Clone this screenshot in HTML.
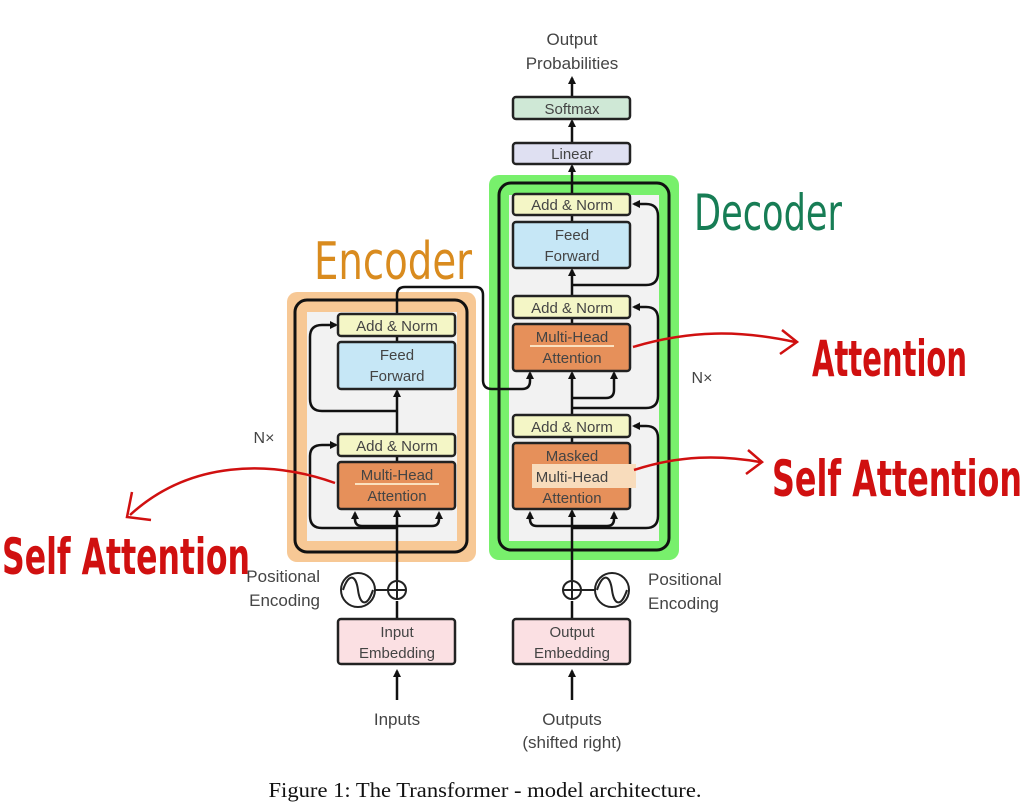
<!DOCTYPE html>
<html><head><meta charset="utf-8"><style>
html,body{margin:0;padding:0;background:#fff;width:1024px;height:811px;overflow:hidden}
svg{display:block}
.t{font-family:"Liberation Sans",sans-serif;fill:#444;font-size:15px;text-anchor:middle}
.b{stroke:#222;stroke-width:2.5}
.l{stroke:#111;stroke-width:2.5;fill:none}
.h{font-family:"DejaVu Sans Condensed","Liberation Sans Narrow","Liberation Sans",sans-serif;font-weight:bold}
</style></head><body>
<svg width="1024" height="811" viewBox="0 0 1024 811">
<defs><marker id="a" markerWidth="8" markerHeight="8" refX="6" refY="4" orient="auto" markerUnits="userSpaceOnUse"><path d="M0,0 L8,4 L0,8 Z" fill="#111"/></marker></defs>

<!-- encoder -->
<rect x="287" y="292" width="189" height="270" rx="10" fill="#f7c895"/>
<rect x="295" y="300" width="172" height="252" rx="12" fill="none" stroke="#111" stroke-width="3"/>
<rect x="307" y="312" width="150" height="229" fill="#f2f2f2"/>
<!-- decoder -->
<rect x="489" y="175" width="190" height="385" rx="10" fill="#78f06c"/>
<rect x="499" y="183" width="170" height="367" rx="12" fill="none" stroke="#111" stroke-width="3"/>
<rect x="509" y="195" width="150" height="346" fill="#f2f2f2"/>

<!-- lines encoder -->
<path class="l" d="M397,700 L397,671" marker-end="url(#a)"/>
<path class="l" d="M397,619 L397,601"/>
<path class="l" d="M397,580 L397,511" marker-end="url(#a)"/>
<path class="l" d="M397,528 L322,528 Q310,528 310,516 L310,456 Q310,445 322,445 L336,445" marker-end="url(#a)"/>
<path class="l" d="M355,520 L355,513" marker-end="url(#a)"/>
<path class="l" d="M355,519 Q355,526 362,526 L432,526 Q439,526 439,519 L439,513" marker-end="url(#a)"/>
<path class="l" d="M397,456 L397,462"/>
<path class="l" d="M397,434 L397,391" marker-end="url(#a)"/>
<path class="l" d="M397,411 L322,411 Q310,411 310,399 L310,337 Q310,325 322,325 L336,325" marker-end="url(#a)"/>
<path class="l" d="M397,336 L397,342"/>
<path class="l" d="M397,314 L397,295 Q397,287 405,287 L475,287 Q483,287 483,295 L483,380 Q483,389 492,389 L522,389 Q530,389 530,381 L530,373" marker-end="url(#a)"/>
<!-- lines decoder -->
<path class="l" d="M572,700 L572,671" marker-end="url(#a)"/>
<path class="l" d="M572,619 L572,601"/>
<path class="l" d="M572,580 L572,511" marker-end="url(#a)"/>
<path class="l" d="M572,528 L646,528 Q658,528 658,516 L658,438 Q658,426 646,426 L634,426" marker-end="url(#a)"/>
<path class="l" d="M530,519 Q530,526 537,526 L607,526 Q614,526 614,519 L614,513" marker-end="url(#a)"/>
<path class="l" d="M530,520 L530,513" marker-end="url(#a)"/>
<path class="l" d="M572,437 L572,443"/>
<path class="l" d="M572,415 L572,373" marker-end="url(#a)"/>
<path class="l" d="M572,398 L606,398 Q614,398 614,390 L614,373" marker-end="url(#a)"/>
<path class="l" d="M572,408 L646,408 Q658,408 658,396 L658,319 Q658,307 646,307 L634,307" marker-end="url(#a)"/>
<path class="l" d="M572,318 L572,324"/>
<path class="l" d="M572,296 L572,270" marker-end="url(#a)"/>
<path class="l" d="M572,285 L646,285 Q658,285 658,273 L658,216 Q658,204 646,204 L634,204" marker-end="url(#a)"/>
<path class="l" d="M572,215 L572,222"/>
<path class="l" d="M572,194 L572,166" marker-end="url(#a)"/>
<path class="l" d="M572,143 L572,121" marker-end="url(#a)"/>
<path class="l" d="M572,97 L572,78" marker-end="url(#a)"/>

<!-- boxes encoder -->
<rect class="b" x="338" y="314" width="117" height="22" rx="3" fill="#f4f6c6"/>
<text class="t" x="397" y="331">Add &amp; Norm</text>
<rect class="b" x="338" y="342" width="117" height="47" rx="3" fill="#c6e7f6"/>
<text class="t" x="397" y="360">Feed</text><text class="t" x="397" y="381">Forward</text>
<rect class="b" x="338" y="434" width="117" height="22" rx="3" fill="#f4f6c6"/>
<text class="t" x="397" y="451">Add &amp; Norm</text>
<rect class="b" x="338" y="462" width="117" height="47" rx="3" fill="#e6905a"/>
<line x1="355" y1="484" x2="439" y2="484" stroke="#fbe1c0" stroke-width="2"/>
<text class="t" x="397" y="480">Multi-Head</text><text class="t" x="397" y="501">Attention</text>
<rect class="b" x="338" y="619" width="117" height="45" rx="3" fill="#fbe0e3"/>
<text class="t" x="397" y="637">Input</text><text class="t" x="397" y="658">Embedding</text>
<!-- boxes decoder -->
<rect class="b" x="513" y="97" width="117" height="22" rx="3" fill="#cfe8d6"/>
<text class="t" x="572" y="114">Softmax</text>
<rect class="b" x="513" y="143" width="117" height="21" rx="3" fill="#dfe0f2"/>
<text class="t" x="572" y="159">Linear</text>
<rect class="b" x="513" y="194" width="117" height="21" rx="3" fill="#f4f6c6"/>
<text class="t" x="572" y="210">Add &amp; Norm</text>
<rect class="b" x="513" y="222" width="117" height="46" rx="3" fill="#c6e7f6"/>
<text class="t" x="572" y="240">Feed</text><text class="t" x="572" y="261">Forward</text>
<rect class="b" x="513" y="296" width="117" height="22" rx="3" fill="#f4f6c6"/>
<text class="t" x="572" y="313">Add &amp; Norm</text>
<rect class="b" x="513" y="324" width="117" height="47" rx="3" fill="#e6905a"/>
<line x1="530" y1="346" x2="614" y2="346" stroke="#fbe1c0" stroke-width="2"/>
<text class="t" x="572" y="342">Multi-Head</text><text class="t" x="572" y="363">Attention</text>
<rect class="b" x="513" y="415" width="117" height="22" rx="3" fill="#f4f6c6"/>
<text class="t" x="572" y="432">Add &amp; Norm</text>
<rect class="b" x="513" y="443" width="117" height="66" rx="3" fill="#e6905a"/>
<rect x="532" y="464" width="104" height="24" fill="#f8dcbc"/>
<text class="t" x="572" y="461">Masked</text><text class="t" x="572" y="482">Multi-Head</text><text class="t" x="572" y="503">Attention</text>
<rect class="b" x="513" y="619" width="117" height="45" rx="3" fill="#fbe0e3"/>
<text class="t" x="572" y="637">Output</text><text class="t" x="572" y="658">Embedding</text>

<!-- positional -->
<circle cx="358" cy="590" r="17" fill="#fff" stroke="#222" stroke-width="2"/>
<path d="M343,590 C349,572 356,575 358,590 C360,605 367,608 373,590" fill="none" stroke="#222" stroke-width="2"/>
<line x1="375" y1="590" x2="388" y2="590" stroke="#222" stroke-width="2"/>
<circle cx="397" cy="590" r="9" fill="#fff" stroke="#222" stroke-width="2"/>
<path d="M388,590 H406 M397,581 V599" stroke="#222" stroke-width="2"/>
<circle cx="612" cy="590" r="17" fill="#fff" stroke="#222" stroke-width="2"/>
<path d="M597,590 C603,572 610,575 612,590 C614,605 621,608 627,590" fill="none" stroke="#222" stroke-width="2"/>
<line x1="581" y1="590" x2="595" y2="590" stroke="#222" stroke-width="2"/>
<circle cx="572" cy="590" r="9" fill="#fff" stroke="#222" stroke-width="2"/>
<path d="M563,590 H581 M572,581 V599" stroke="#222" stroke-width="2"/>

<text class="t" x="320" y="582" style="font-size:17px;text-anchor:end">Positional</text>
<text class="t" x="320" y="606" style="font-size:17px;text-anchor:end">Encoding</text>
<text class="t" x="648" y="585" style="font-size:17px;text-anchor:start">Positional</text>
<text class="t" x="648" y="609" style="font-size:17px;text-anchor:start">Encoding</text>
<text class="t" x="397" y="725" style="font-size:17px">Inputs</text>
<text class="t" x="572" y="725" style="font-size:17px">Outputs</text>
<text class="t" x="572" y="748" style="font-size:17px">(shifted right)</text>
<text class="t" x="572" y="45" style="font-size:17px">Output</text>
<text class="t" x="572" y="69" style="font-size:17px">Probabilities</text>
<text class="t" x="264" y="443" style="font-size:16px">N×</text>
<text class="t" x="702" y="383" style="font-size:16px">N×</text>

<text x="485" y="797" textLength="433" lengthAdjust="spacingAndGlyphs" style="font-family:'Liberation Serif',serif;font-size:21px;fill:#111;text-anchor:middle">Figure 1: The Transformer - model architecture.</text>

<!-- annotations -->
<text class="h" x="314" y="279" textLength="158" lengthAdjust="spacingAndGlyphs" style="font-size:52px;fill:#d98b1e;font-weight:normal">Encoder</text>
<text class="h" x="694" y="230" textLength="148" lengthAdjust="spacingAndGlyphs" style="font-size:50px;fill:#177d55;font-weight:normal">Decoder</text>
<text class="h" x="812" y="376" textLength="155" lengthAdjust="spacingAndGlyphs" style="font-size:50px;fill:#d01010">Attention</text>
<text class="h" x="772" y="496" textLength="250" lengthAdjust="spacingAndGlyphs" style="font-size:50px;fill:#d01010">Self Attention</text>
<text class="h" x="2" y="574" textLength="248" lengthAdjust="spacingAndGlyphs" style="font-size:50px;fill:#d01010">Self Attention</text>
<path d="M335,483 C270,460 190,460 130,515" fill="none" stroke="#d01010" stroke-width="2.5"/>
<path d="M132,492 L127,517 L151,520" fill="none" stroke="#d01010" stroke-width="2.5"/>
<path d="M633,347 C690,330 740,330 795,342" fill="none" stroke="#d01010" stroke-width="2.5"/>
<path d="M782,330 L797,342 L780,354" fill="none" stroke="#d01010" stroke-width="2.5"/>
<path d="M634,470 C680,455 720,455 760,462" fill="none" stroke="#d01010" stroke-width="2.5"/>
<path d="M748,450 L762,462 L746,474" fill="none" stroke="#d01010" stroke-width="2.5"/>
</svg>
</body></html>
